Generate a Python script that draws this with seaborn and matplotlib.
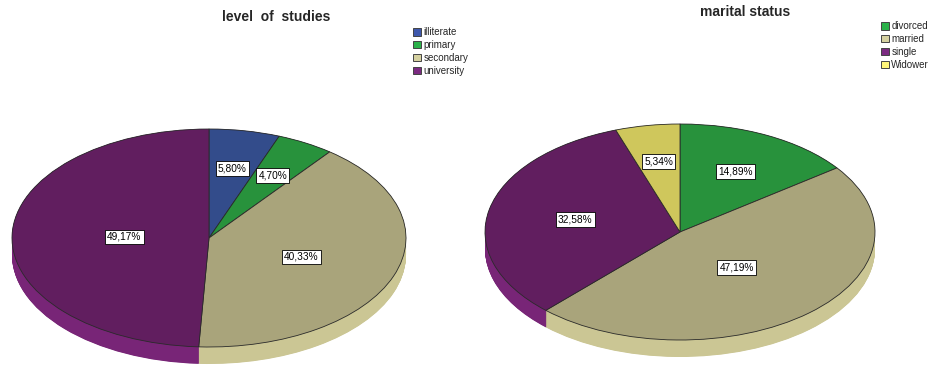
import numpy as np
import matplotlib
matplotlib.use("Agg")
import matplotlib.pyplot as plt
from matplotlib.patches import Patch
import seaborn as sns

# ---------------- data ----------------
study_title = "level  of  studies"
study_labels = ["illiterate", "primary", "secondary", "university"]
study_values = [5.80, 4.70, 40.33, 49.17]

marital_title = "marital status"
marital_labels = ["divorced", "married", "single", "Widower"]
marital_values = [14.89, 47.19, 32.58, 5.34]

# ---------------- style ----------------
sns.set_theme(style="white")
plt.rcParams['font.family'] = ['Liberation Sans', 'DejaVu Sans']

W, H = 930, 369
fig = plt.figure(figsize=(W / 100, H / 100), dpi=100)

study_top = ["#334C8B", "#28923C", "#A9A47B", "#611E5F"]
study_side = ["#3E58A0", "#2FA548", "#CBC694", "#782577"]
study_leg = ["#3E58AC", "#2BB24A", "#D5D1A0", "#7B2A81"]

marital_top = ["#28923C", "#A9A47B", "#611E5F", "#CFC75C"]
marital_side = ["#2FA548", "#CBC694", "#782577", "#E0D86A"]
marital_leg = ["#2BB24A", "#D5D1A0", "#7B2A81", "#FFF67A"]


def pct_fmt(p):
    return f"{p:.2f}%".replace(".", ",")


def draw_pie(rect_px, center_px, a, b, depth_px, values, top_colors,
             side_colors, label_r):
    x0, y0, w, h = rect_px
    cx, cy = center_px
    ax = fig.add_axes([x0 / W, 1 - (y0 + h) / H, w / W, h / H])
    depth = depth_px / b
    n = 40
    for k in range(n):
        d = depth * (1 - k / (n - 1))
        ax.pie(values, colors=side_colors, startangle=90, counterclock=False,
               center=(0, -d), wedgeprops=dict(linewidth=0, antialiased=True))
    wedges, _, autotexts = ax.pie(
        values, colors=top_colors, startangle=90, counterclock=False,
        autopct=pct_fmt,
        wedgeprops=dict(edgecolor="#2a2a2a", linewidth=0.6),
        textprops=dict(fontsize=7.3, color="black"))
    for wdg, t, r in zip(wedges, autotexts, label_r):
        th = np.deg2rad((wdg.theta1 + wdg.theta2) / 2)
        t.set_position((r * np.cos(th), r * np.sin(th)))
        t.set_bbox(dict(boxstyle="square,pad=0.22", fc="white", ec="black",
                        lw=0.6))
    ax.set_aspect("auto")
    ax.set_xlim((x0 - cx) / a, (x0 + w - cx) / a)
    ax.set_ylim((cy - (y0 + h)) / b, (cy - y0) / b)
    ax.axis("off")
    return ax


draw_pie((0, 110, 420, 259), (209, 238), 197, 109, 17, study_values,
         study_top, study_side, [0.65, 0.66, 0.50, 0.43])
draw_pie((470, 110, 460, 259), (680, 232), 195, 108, 17, marital_values,
         marital_top, marital_side, [0.63, 0.44, 0.55, 0.66])

fig.text(276 / W, 1 - 17 / H, study_title, ha="center", va="center",
         fontsize=10, fontweight="bold")
fig.text(745 / W, 1 - 12 / H, marital_title, ha="center", va="center",
         fontsize=10, fontweight="bold")


def add_legend(labels, colors, x_px, y_px):
    handles = [Patch(facecolor=c, edgecolor="#444444", linewidth=0.7)
               for c in colors]
    fig.legend(handles, labels, loc="upper left",
               bbox_to_anchor=(x_px / W, 1 - y_px / H), frameon=False,
               fontsize=7, handlelength=0.85, handleheight=0.85,
               handletextpad=0.2, labelspacing=0.3, borderpad=0,
               borderaxespad=0)


add_legend(study_labels, study_leg, 413, 27)
add_legend(marital_labels, marital_leg, 881, 21)

fig.savefig("out.png", dpi=100)
